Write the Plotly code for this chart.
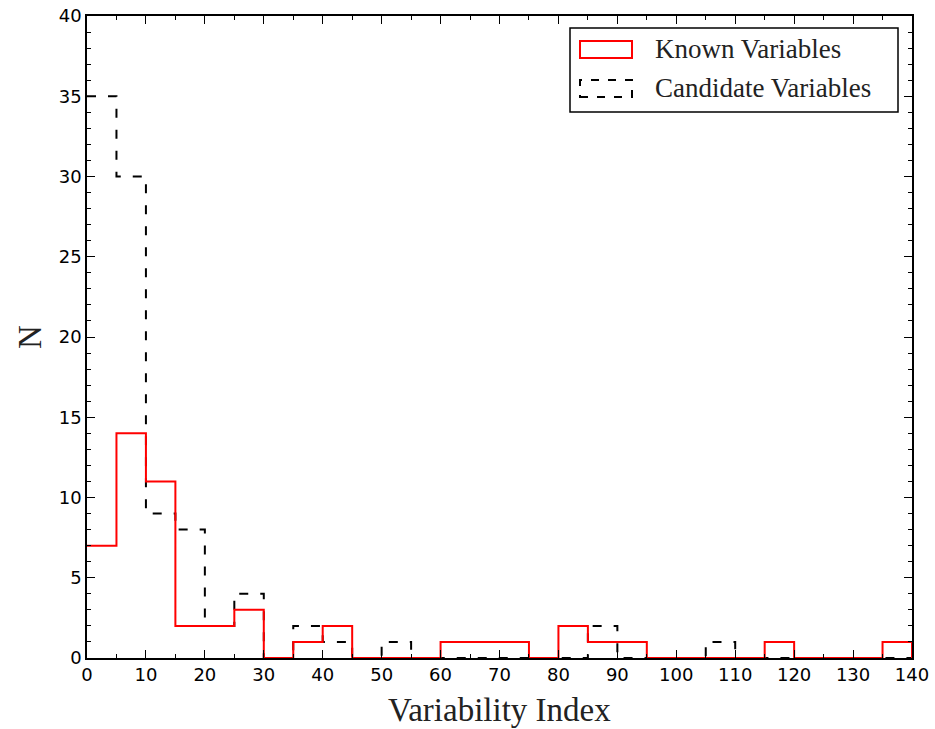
import plotly.graph_objects as go

# Bin edges (width 5) from 0 to 140
bin_edges = list(range(0, 145, 5))
known_counts = [7, 14, 11, 2, 2, 3, 0, 1, 2, 0, 0, 0, 1, 1, 1, 0, 2, 1, 1, 0, 0, 0, 0, 1, 0, 0, 0, 1]
candidate_counts = [35, 30, 9, 8, 2, 4, 0, 2, 1, 0, 1, 0, 0, 0, 0, 0, 0, 2, 0, 0, 0, 1, 0, 0, 0, 0, 0, 0]
x_ticks = list(range(0, 150, 10))
y_ticks = list(range(0, 45, 5))
series_names = ["Known Variables", "Candidate Variables"]


def step_xy(edges, counts):
    xs = edges[:-1] + [edges[-1], edges[-1]]
    ys = counts + [counts[-1], 0]
    return xs, ys


fig = go.Figure()
xk, yk = step_xy(bin_edges, known_counts)
xc, yc = step_xy(bin_edges, candidate_counts)
fig.add_trace(go.Scatter(x=xc, y=yc, mode="lines", line_shape="hv",
                         line=dict(color="black", width=2, dash="9px,12px"),
                         name=series_names[1], showlegend=False))
fig.add_trace(go.Scatter(x=xk, y=yk, mode="lines", line_shape="hv",
                         line=dict(color="red", width=2),
                         name=series_names[0], showlegend=False))

L, R, T, B = 87, 23, 16, 71
W, H = 935, 729
pw, ph = W - L - R, H - T - B


def px2paper(px, py):
    return (px - L) / pw, (H - B - py) / ph


shapes = []
annotations = []
# legend box
x0, y0 = px2paper(570, 28)
x1, y1 = px2paper(898, 112)
shapes.append(dict(type="rect", xref="paper", yref="paper", x0=x0, y0=y1, x1=x1, y1=y0,
                   line=dict(color="black", width=1.5), fillcolor="white", layer="above"))
# known patch
a0, b0 = px2paper(580, 41)
a1, b1 = px2paper(632, 58)
shapes.append(dict(type="rect", xref="paper", yref="paper", x0=a0, y0=b1, x1=a1, y1=b0,
                   line=dict(color="red", width=2), fillcolor="rgba(0,0,0,0)", layer="above"))
# candidate patch
a0, b0 = px2paper(580, 80)
a1, b1 = px2paper(632, 97)
shapes.append(dict(type="rect", xref="paper", yref="paper", x0=a0, y0=b1, x1=a1, y1=b0,
                   line=dict(color="black", width=2, dash="8px,9px"), fillcolor="rgba(0,0,0,0)", layer="above"))
for name, py in zip(series_names, [49, 88]):
    tx, ty = px2paper(653, py)
    annotations.append(dict(text=name, xref="paper", yref="paper", x=tx, y=ty,
                            xanchor="left", yanchor="middle", showarrow=False,
                            font=dict(family="Liberation Serif", size=27, color="#222")))
# axis titles
tx, ty = px2paper(499, 710)
annotations.append(dict(text="Variability Index", xref="paper", yref="paper", x=tx, y=ty,
                        xanchor="center", yanchor="middle", showarrow=False,
                        font=dict(family="Liberation Serif", size=33, color="#222")))
tx, ty = px2paper(30, 337)
annotations.append(dict(text="N", xref="paper", yref="paper", x=tx, y=ty, textangle=-90,
                        xanchor="center", yanchor="middle", showarrow=False,
                        font=dict(family="Liberation Serif", size=33, color="#222")))

axis_common = dict(showline=True, linecolor="black", linewidth=1.5, mirror="allticks",
                   ticks="inside", ticklen=8, tickwidth=1.2, tickcolor="black",
                   showgrid=False, zeroline=False, automargin=False,
                   tickfont=dict(family="DejaVu Sans", size=18, color="black"))

fig.update_layout(
    width=W, height=H,
    margin=dict(l=L, r=R, t=T, b=B),
    plot_bgcolor="white", paper_bgcolor="white",
    shapes=shapes, annotations=annotations,
    xaxis=dict(range=[0, 140], tickvals=x_ticks, ticktext=[str(v) for v in x_ticks],
               minor=dict(dtick=5, ticklen=4, tickcolor="black", ticks="inside"),
               **axis_common),
    yaxis=dict(range=[0, 40], tickvals=y_ticks, ticktext=[str(v) for v in y_ticks],
               minor=dict(dtick=1, ticklen=4, tickcolor="black", ticks="inside"),
               **axis_common),
)

fig.write_html("out.html", config={"displayModeBar": False},
               post_script="document.body.style.margin='0';document.body.style.overflow='hidden';")
